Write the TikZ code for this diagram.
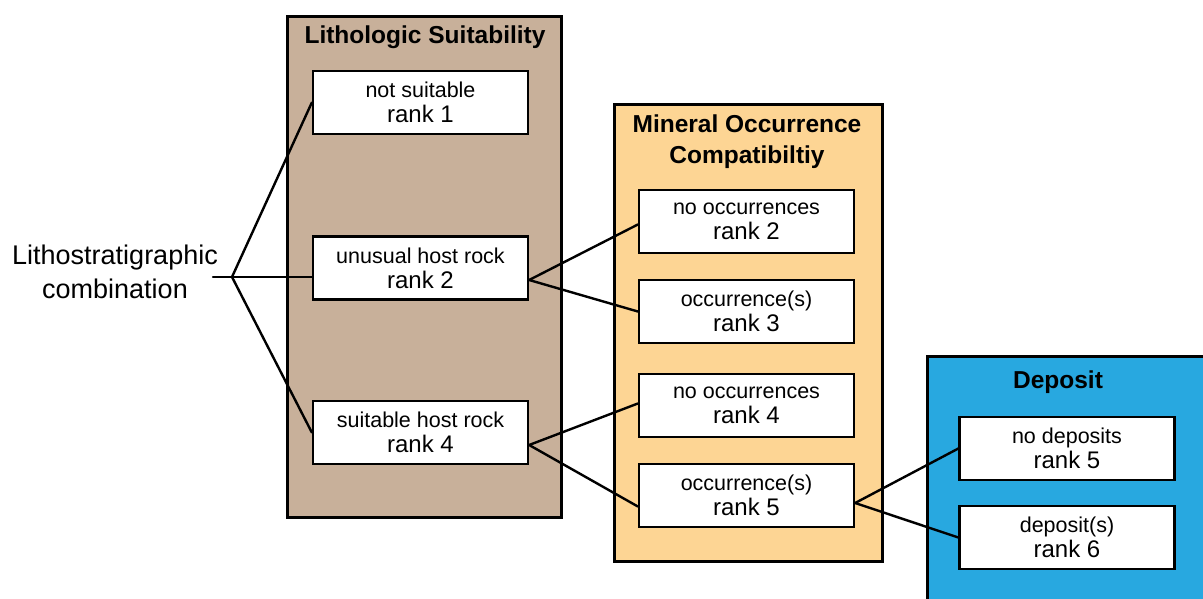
\documentclass[tikz,border=0pt]{standalone}
\usepackage{fontspec}
\setmainfont{Liberation Sans}
\usetikzlibrary{calc}
\definecolor{litho}{RGB}{200,176,154}
\definecolor{mineral}{RGB}{253,213,148}
\definecolor{depo}{RGB}{40,168,224}
\tikzset{
  panel/.style={draw=black, line width=2.6pt, anchor=north west, inner sep=0pt},
  rankbox/.style={draw=black, fill=white, line width=2.3pt, minimum width=215pt, minimum height=63pt, inner sep=0pt, align=center, font=\fontsize{21.5}{25}\selectfont},
  paneltitle/.style={font=\fontsize{24.5}{31}\selectfont\bfseries, align=center, inner sep=0pt},
  conn/.style={line width=2.4pt, line cap=round},
}
\newcommand{\rk}[1]{\\[0pt]{\fontsize{24}{25}\selectfont #1}}
\begin{document}
\begin{tikzpicture}[x=1pt,y=-1pt]
\clip (0,0) rectangle (1203,599);
\fill[white] (0,0) rectangle (1203,599);
% panels
\node[panel, fill=litho, minimum width=274pt, minimum height=501pt] (ls) at (286,15) {};
\node[panel, fill=mineral, minimum width=268pt, minimum height=457pt] (mo) at (613,103) {};
\node[panel, fill=depo, minimum width=300pt, minimum height=260pt] (dep) at (926,355) {};
% titles
\node[paneltitle] (lst) at (425,37.5) {Lithologic Suitability};
\node[paneltitle] (mot) at (747,142) {Mineral Occurrence\\Compatibiltiy};
\node[paneltitle] (dept) at (1058,382.5) {Deposit};
% left label
\node[align=center, inner sep=0pt, font=\fontsize{27}{34}\selectfont] (lc) at (115,272) {Lithostratigraphic\\combination};
% rank boxes
\node[rankbox] (ns) at (420.5,102.5) {not suitable\rk{rank 1}};
\node[rankbox] (uh) at (420.5,268) {unusual host rock\rk{rank 2}};
\node[rankbox] (sh) at (420.5,432.5) {suitable host rock\rk{rank 4}};
\node[rankbox] (no2) at (746.5,221.5) {no occurrences\rk{rank 2}};
\node[rankbox] (oc3) at (746.5,311.5) {occurrence(s)\rk{rank 3}};
\node[rankbox] (no4) at (746.5,405.5) {no occurrences\rk{rank 4}};
\node[rankbox] (oc5) at (746.5,495.5) {occurrence(s)\rk{rank 5}};
\node[rankbox] (nd) at (1067,448.5) {no deposits\rk{rank 5}};
\node[rankbox] (dp) at (1067,537.5) {deposit(s)\rk{rank 6}};
% fork points
\coordinate (s0) at (213,277);
\coordinate (f0) at (232,277);
\coordinate (f1) at ([yshift=-12pt]uh.east);
\coordinate (f2) at ([yshift=-12.5pt]sh.east);
\coordinate (f3) at ([yshift=-7.5pt]oc5.east);
% connectors
\draw[conn] (s0) -- (f0);
\draw[conn] (f0) -- (ns.west);
\draw[conn] (f0) -- (f0 -| uh.west);
\draw[conn] (f0) -- (sh.west);
\draw[conn] (f1) -- ([yshift=-3pt]no2.west);
\draw[conn] (f1) -- (oc3.west);
\draw[conn] (f2) -- ([yshift=2pt]no4.west);
\draw[conn] (f2) -- ([yshift=-11pt]oc5.west);
\draw[conn] (f3) -- (nd.west);
\draw[conn] (f3) -- (dp.west);
\end{tikzpicture}
\end{document}
